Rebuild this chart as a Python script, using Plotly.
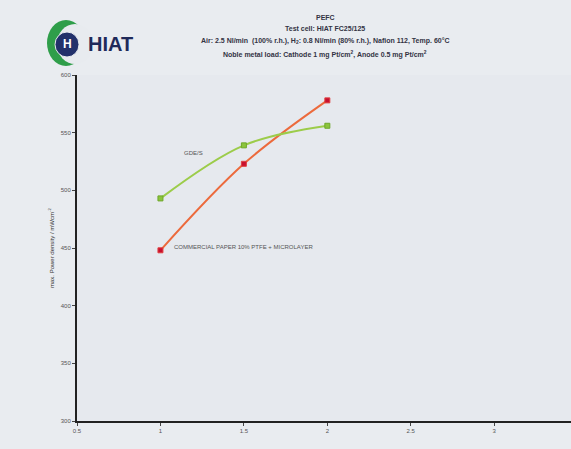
import plotly.graph_objects as go

x_vals = [1, 1.5, 2]
gde_vals = [493, 539, 556]
commercial_vals = [448, 523, 578]
x_ticks = [0.5, 1, 1.5, 2, 2.5, 3]
x_tick_labels = ["0.5", "1", "1.5", "2", "2.5", "3"]
y_ticks = [300, 350, 400, 450, 500, 550, 600]
y_tick_labels = ["300", "350", "400", "450", "500", "550", "600"]

fig = go.Figure()
fig.add_trace(go.Scatter(
    x=x_vals, y=commercial_vals, mode="lines+markers",
    line=dict(color="#ec6a3c", width=2, shape="spline"),
    marker=dict(symbol="square", size=5, color="#c8102e", line=dict(color="#e04040", width=1)),
    showlegend=False))
fig.add_trace(go.Scatter(
    x=x_vals, y=gde_vals, mode="lines+markers",
    line=dict(color="#9ccc4a", width=2, shape="spline"),
    marker=dict(symbol="square", size=5, color="#8cc43c", line=dict(color="#6ea82a", width=1)),
    showlegend=False))

fig.add_annotation(x=1.13, y=532, text="GDE/S", showarrow=False, xanchor="left",
                   font=dict(size=6, color="#555555", family="Liberation Sans"))
fig.add_annotation(x=1.07, y=451, text="COMMERCIAL PAPER 10% PTFE + MICROLAYER", showarrow=False,
                   xanchor="left", font=dict(size=6, color="#555555", family="Liberation Sans"))

title_lines = [
    ("PEFC", 17),
    ("Test cell: HIAT FC25/125", 29),
    ("Air: 2.5 Nl/min  (100% r.h.), H<sub>2</sub>: 0.8 Nl/min (80% r.h.), Nafion 112, Temp. 60°C", 41),
    ("Noble metal load: Cathode 1 mg Pt/cm<sup>2</sup>, Anode 0.5 mg Pt/cm<sup>2</sup>", 54),
]
for txt, ypx in title_lines:
    fig.add_annotation(xref="paper", yref="paper", x=(325 - 77) / (571 - 77),
                       y=1 + (75 - ypx) / 346, text="<b>" + txt + "</b>", showarrow=False,
                       xanchor="center", yanchor="middle",
                       font=dict(size=7, color="#333344", family="Liberation Sans"))

# logo
fig.add_annotation(xref="paper", yref="paper", x=(86 - 77) / 494, y=1 + (75 - 44) / 346,
                   text="<b>HIAT</b>", showarrow=False, xanchor="left", yanchor="middle",
                   font=dict(size=20, color="#1f2a5a", family="Liberation Sans"))

# y-axis title
fig.add_annotation(xref="paper", yref="paper", x=-(77 - 51) / 494, y=0.5,
                   text="max. Power density / mWcm<sup>-2</sup>", textangle=-90, showarrow=False,
                   xanchor="center", yanchor="middle",
                   font=dict(size=6, color="#333333", family="Liberation Sans"))

shapes = [
    dict(type="circle", xref="paper", yref="paper",
         x0=(47 - 77) / 494, x1=(85 - 77) / 494, y0=1 + (75 - 66) / 346, y1=1 + (75 - 20) / 346,
         fillcolor="#2f9e4a", line=dict(width=0)),
    dict(type="circle", xref="paper", yref="paper",
         x0=(57 - 77) / 494, x1=(93 - 77) / 494, y0=1 + (75 - 64) / 346, y1=1 + (75 - 24) / 346,
         fillcolor="#e8ebef", line=dict(width=0)),
    dict(type="circle", xref="paper", yref="paper",
         x0=(55 - 77) / 494, x1=(79 - 77) / 494, y0=1 + (75 - 57) / 346, y1=1 + (75 - 32) / 346,
         fillcolor="#23316b", line=dict(color="#e8ebef", width=1)),
]
fig.add_annotation(xref="paper", yref="paper", x=(67 - 77) / 494, y=1 + (75 - 44.5) / 346,
                   text="<b>H</b>", showarrow=False, xanchor="center", yanchor="middle",
                   font=dict(size=12, color="white", family="Liberation Sans"))

fig.update_layout(
    width=571, height=449,
    margin=dict(l=77, r=0, t=75, b=28),
    paper_bgcolor="#e9ecf0", plot_bgcolor="#e6e9ee",
    shapes=shapes,
    xaxis=dict(range=[0.5, 3.46], tickvals=x_ticks, ticktext=x_tick_labels,
               showgrid=False, zeroline=False, showline=True, linecolor="#222222", linewidth=2,
               ticks="outside", ticklen=3, tickcolor="#444444",
               tickfont=dict(size=6, color="#555555", family="Liberation Sans")),
    yaxis=dict(range=[300, 600], tickvals=y_ticks, ticktext=y_tick_labels,
               showgrid=False, zeroline=False, showline=True, linecolor="#222222", linewidth=2,
               ticks="outside", ticklen=3, tickcolor="#444444",
               tickfont=dict(size=6, color="#555555", family="Liberation Sans")),
)

fig.write_html("out.html", config={"displayModeBar": False},
               post_script="document.body.style.margin='0';document.body.style.overflow='hidden';")
